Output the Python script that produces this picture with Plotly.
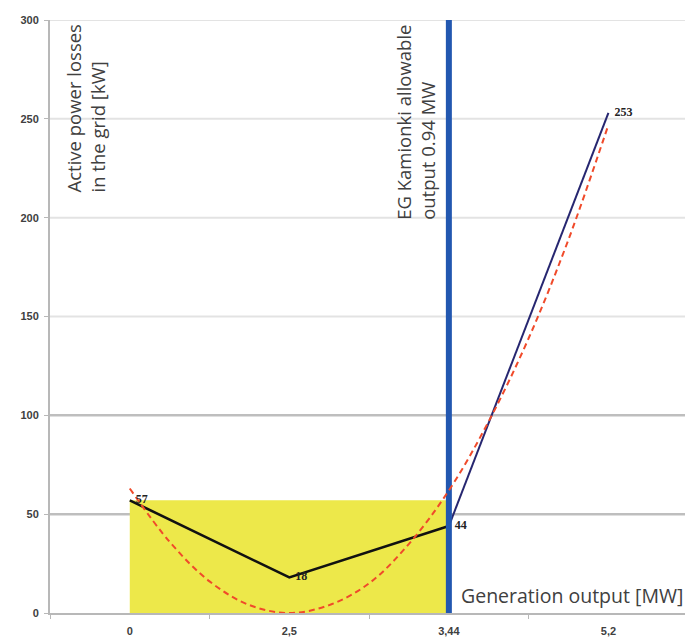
import plotly.graph_objects as go

# ---- data ----
categories = ["0", "2,5", "3,44", "5,2"]          # generation output [MW] (category axis)
cat_pos = [0, 1, 2, 3]
losses_low = [57, 18, 44]                         # losses for 0 .. 3,44
losses_high = [44, 253]                           # losses for 3,44 .. 5,2
point_labels = [57, 18, 44, 253]
trend_pos = [0, 0.25, 0.5, 0.75, 1, 1.25, 1.5, 1.75, 2, 2.25, 2.5, 2.75, 3]
trend_val = [63, 36, 16, 4, 0, 4, 15, 35, 62, 97, 139, 189, 247]
y_ticks = [0, 50, 100, 150, 200, 250, 300]
dark_grid = [50, 100]
limit_level = 57                                   # height of the yellow band
limit_cat = 2                                      # index of "3,44"
y_max = 300

fig = go.Figure()

fig.add_trace(go.Scatter(
    x=cat_pos[:3], y=losses_low, mode="lines",
    line=dict(color="#111111", width=2.6), showlegend=False))

fig.add_trace(go.Scatter(
    x=cat_pos[2:], y=losses_high, mode="lines",
    line=dict(color="#262670", width=2), showlegend=False))

fig.add_trace(go.Scatter(
    x=[cat_pos[limit_cat], cat_pos[limit_cat]], y=[0, y_max], mode="lines",
    line=dict(color="#2257B0", width=6), showlegend=False))

fig.add_trace(go.Scatter(
    x=trend_pos, y=trend_val, mode="lines", line_shape="spline",
    line=dict(color="#F04A2A", width=2, dash="6px,4px"), showlegend=False))

fig.add_trace(go.Scatter(
    x=cat_pos, y=point_labels, mode="text",
    text=["  " + str(v) for v in point_labels], textposition="middle right",
    textfont=dict(family="Liberation Serif", size=12, color="#222222", weight="bold"),
    showlegend=False, cliponaxis=False))

shapes = [dict(type="rect", xref="x", yref="y", layer="below",
               x0=cat_pos[0], x1=cat_pos[limit_cat], y0=0, y1=limit_level,
               fillcolor="#EDE84A", line=dict(width=0))]
for g in y_ticks[1:]:
    col = "rgba(110,110,110,0.45)" if g in dark_grid else "#E3E3E3"
    shapes.append(dict(type="line", xref="paper", yref="y", layer="below",
                       x0=0, x1=1, y0=g, y1=g,
                       line=dict(color=col, width=2.5 if g in dark_grid else 2)))

txt_color = "#404040"
annotations = [
    dict(text="Active power losses<br>in the grid [kW]", textangle=-90,
         xref="x", yref="y", x=-0.5, y=y_max, xanchor="left", yanchor="top",
         xshift=8, yshift=-3, showarrow=False, align="left",
         font=dict(family="Open Sans", size=18.5, color=txt_color)),
    dict(text="EG Kamionki allowable<br>output 0.94 MW", textangle=-90,
         xref="x", yref="y", x=cat_pos[limit_cat], y=y_max, xanchor="right", yanchor="top",
         xshift=-7, yshift=-3, showarrow=False, align="left",
         font=dict(family="Open Sans", size=18.5, color=txt_color)),
    dict(text="Generation output [MW]", xref="x", yref="y",
         x=cat_pos[limit_cat], y=9, xanchor="left", yanchor="middle",
         xshift=10, showarrow=False,
         font=dict(family="Open Sans", size=19.5, color=txt_color)),
]

tick_font = dict(family="Liberation Sans", size=11, color="#404040", weight="bold")

fig.update_layout(
    width=685, height=635,
    margin=dict(l=42, r=6, t=10, b=28),
    paper_bgcolor="white", plot_bgcolor="white",
    shapes=shapes, annotations=annotations,
    xaxis=dict(range=[-0.5, 3.48], tickmode="array", tickvals=cat_pos, ticktext=categories,
               showgrid=False, zeroline=False, showline=True, linecolor="#B8B8B8", linewidth=2,
               ticks="", tickfont=tick_font, ticklabelstandoff=7,
               minor=dict(tick0=0.5, dtick=1, ticks="outside", ticklen=4,
                          tickcolor="#B8B8B8", showgrid=False)),
    yaxis=dict(range=[0, y_max], tickmode="array", tickvals=y_ticks,
               showgrid=False, zeroline=False,
               showline=True, linecolor="#B8B8B8", linewidth=2, mirror=True,
               ticks="outside", ticklen=4, tickcolor="#B8B8B8", tickfont=tick_font,
               ticklabelstandoff=3),
)

fig.write_html("out.html")
